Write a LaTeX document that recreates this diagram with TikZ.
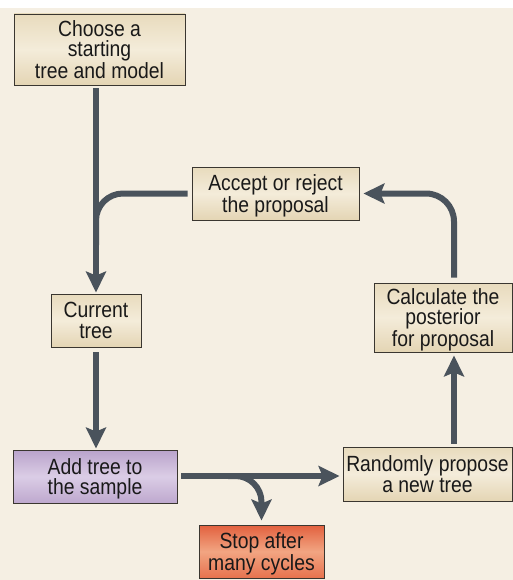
\documentclass[tikz,border=0pt]{standalone}
\usepackage{fontspec}
\setmainfont{Liberation Sans}[FakeStretch=0.88]
\usetikzlibrary{arrows.meta}

\definecolor{bgcol}{HTML}{F5EFE3}
\definecolor{flowcol}{HTML}{4A535C}
\definecolor{edgecol}{HTML}{3A3630}
\definecolor{beigetop}{HTML}{E8DBBD}
\definecolor{beigemid}{HTML}{F4ECDA}
\definecolor{beigebot}{HTML}{E4D5B4}
\definecolor{purptop}{HTML}{B9A3CB}
\definecolor{purpmid}{HTML}{DBCDE6}
\definecolor{purpbot}{HTML}{BEA8CE}
\definecolor{redtop}{HTML}{E2603E}
\definecolor{redmid}{HTML}{F2A582}
\definecolor{redbot}{HTML}{E7724E}

\tikzset{
  stepbox/.style={draw=edgecol, line width=0.9pt, inner sep=0pt, align=center,
    text depth=0pt, font=\fontsize{22}{20.5}\selectfont, text=black!90},
  beigebox/.style={stepbox, top color=beigetop, bottom color=beigebot, middle color=beigemid},
  purplebox/.style={stepbox, top color=purptop, bottom color=purpbot, middle color=purpmid},
  redbox/.style={stepbox, top color=redtop, bottom color=redbot, middle color=redmid},
  flow/.style={draw=flowcol, line width=6pt, -{Stealth[length=21pt,width=20pt,inset=4pt]}},
  flowline/.style={draw=flowcol, line width=6pt}
}

\begin{document}
\begin{tikzpicture}[x=1pt, y=-1pt]
    % Background
    \useasboundingbox (0,0) rectangle (513,580);
    \fill[white] (0,0) rectangle (513,8);
    \fill[bgcol] (0,8) rectangle (513,580);

    % Boxes of the loop
    \node[beigebox, minimum width=171pt, minimum height=71pt] (choose) at (99.5,49.5)
      {Choose a\\starting\\tree and model};
    \node[beigebox, minimum width=167pt, minimum height=53pt] (accept) at (275.5,193.5)
      {Accept or reject\\the proposal};
    \node[beigebox, minimum width=90pt, minimum height=53pt] (current) at (96,320.5)
      {Current\\tree};
    \node[purplebox, minimum width=164pt, minimum height=53pt] (add) at (95,476.5)
      {Add tree to\\the sample};
    \node[redbox, minimum width=125pt, minimum height=53pt] (stop) at (261.5,551.5)
      {Stop after\\many cycles};
    \node[beigebox, minimum width=169pt, minimum height=54pt] (random) at (427.5,474)
      {Randomly propose\\a new tree};
    \node[beigebox, minimum width=138pt, minimum height=69pt] (calc) at (443,317.5)
      {Calculate the\\posterior\\for proposal};

    % Helper points
    \coordinate (merge) at (96,245);
    \coordinate (branch) at (228,476);
    \coordinate (upline) at (454,0);

    % Connectors
    \draw[flow, shorten <=3pt, shorten >=1pt] (choose.south -| current.north) -- (current.north);
    \draw[flowline, rounded corners=27pt] ([xshift=-4pt]accept.west) -| (merge);
    \draw[flow, shorten <=5pt, shorten >=1pt] (current.south) -- (current.south |- add.north);
    \draw[flow, shorten <=4pt, shorten >=3pt] (add.east |- branch) -- (random.west |- branch);
    \draw[flow, rounded corners=26pt, shorten >=4pt] (branch) -| (stop.north);
    \draw[flow, shorten <=3pt, shorten >=3pt] (random.north -| upline) -- (calc.south -| upline);
    \draw[flow, rounded corners=28pt, shorten <=5pt, shorten >=4pt] (calc.north -| upline) |- (accept.east);
\end{tikzpicture}
\end{document}
